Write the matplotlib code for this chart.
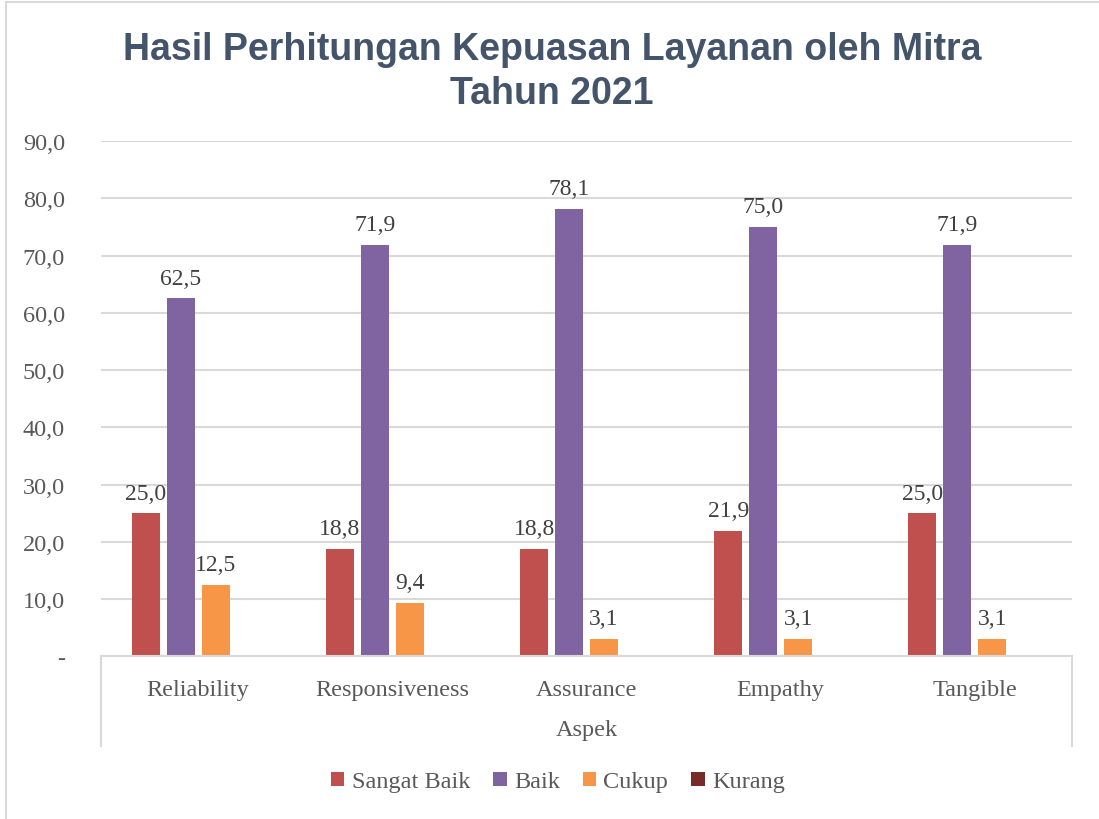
import matplotlib.pyplot as plt
from matplotlib.patches import Patch
from matplotlib.lines import Line2D
import numpy as np

categories = ["Reliability", "Responsiveness", "Assurance", "Empathy", "Tangible"]
series_names = ["Sangat Baik", "Baik", "Cukup", "Kurang"]
sangat_baik = [25.0, 18.8, 18.8, 21.9, 25.0]
baik = [62.5, 71.9, 78.1, 75.0, 71.9]
cukup = [12.5, 9.4, 3.1, 3.1, 3.1]
kurang = [0.0, 0.0, 0.0, 0.0, 0.0]
colors = ["#C0504D", "#8064A2", "#F79646", "#772C2A"]
y_ticks = [0, 10, 20, 30, 40, 50, 60, 70, 80, 90]

SERIF = "Liberation Serif"
TICK_COLOR = "#595959"
LABEL_COLOR = "#404040"
GRID_COLOR = "#D9D9D9"


def fmt(v):
    return "-" if v == 0 else f"{v:.1f}".replace(".", ",")


def main():
    fig = plt.figure(figsize=(10.99, 8.2), dpi=100)
    ax = fig.add_axes([0.0919, 0.1982, 0.8835, 0.6287])

    x = np.arange(len(categories))
    step = 0.18
    width = 0.144
    all_series = [sangat_baik, baik, cukup, kurang]

    for i, (vals, color) in enumerate(zip(all_series, colors)):
        pos = x + (i - 1.5) * step
        bars = ax.bar(pos, vals, width=width, color=color, zorder=3)
        if max(vals) > 0:
            for b, v in zip(bars, vals):
                ax.annotate(fmt(v), (b.get_x() + b.get_width() / 2, v),
                            xytext=(0, 7), textcoords="offset points",
                            ha="center", va="bottom", fontsize=17,
                            family=SERIF, color=LABEL_COLOR)

    ax.set_xlim(-0.5, len(categories) - 0.5)
    ax.set_ylim(0, 90)
    ax.set_yticks(y_ticks)
    ax.set_yticklabels([fmt(v) for v in y_ticks], family=SERIF,
                       fontsize=17.5, color=TICK_COLOR)
    ax.set_xticks(x)
    ax.set_xticklabels(categories, family=SERIF, fontsize=17.5,
                       color=TICK_COLOR)
    ax.tick_params(axis="y", length=0, pad=26)
    ax.tick_params(axis="x", length=0, pad=16)

    ax.grid(axis="y", color=GRID_COLOR, linewidth=1.5, zorder=0)
    for s in ["top", "right", "left"]:
        ax.spines[s].set_visible(False)
    ax.spines["bottom"].set_color(GRID_COLOR)
    ax.spines["bottom"].set_linewidth(1.5)
    ax.spines["bottom"].set_zorder(4)

    # outer category box (multi-level axis look)
    box_bottom = 1 - 747 / 820
    ax_bottom = ax.get_position().y0
    for xf in [ax.get_position().x0, ax.get_position().x1]:
        fig.add_artist(Line2D([xf, xf], [box_bottom, ax_bottom],
                              color=GRID_COLOR, linewidth=1.5))
    fig.text(0.5 * (ax.get_position().x0 + ax.get_position().x1),
             1 - 731 / 820, "Aspek", ha="center", va="center",
             family=SERIF, fontsize=17.5, color=TICK_COLOR)

    fig.text(0.5 * (122 + 982) / 1099, 1 - 72 / 820,
             "Hasil Perhitungan Kepuasan Layanan oleh Mitra\nTahun 2021",
             ha="center", va="center", family="Liberation Sans",
             fontweight="bold", fontsize=27, color="#44546A",
             linespacing=1.28)

    handles = [Patch(facecolor=c, edgecolor="none") for c in colors]
    fig.legend(handles, series_names, loc="center",
               bbox_to_anchor=(558 / 1099, 1 - 783 / 820), ncol=4,
               frameon=False, prop={"family": SERIF, "size": 17.5},
               labelcolor=TICK_COLOR, handlelength=0.55, handleheight=0.55,
               handletextpad=0.3, columnspacing=0.95)

    # chart border (only left and top visible in the crop)
    fig.add_artist(Line2D([6 / 1099, 6 / 1099], [0, 1 - 3 / 820],
                          color=GRID_COLOR, linewidth=1.5))
    fig.add_artist(Line2D([6 / 1099, 1], [1 - 3 / 820, 1 - 3 / 820],
                          color=GRID_COLOR, linewidth=1.5))

    fig.savefig("out.png", dpi=100)


if __name__ == "__main__":
    main()
